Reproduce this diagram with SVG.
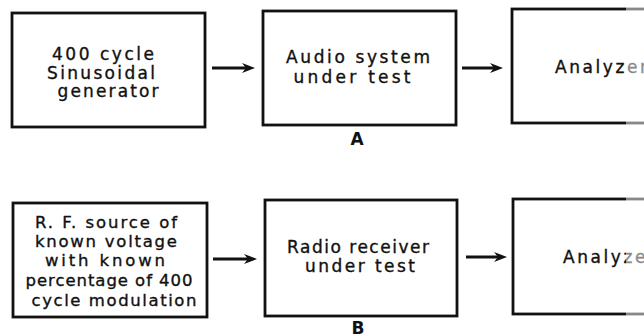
<svg xmlns="http://www.w3.org/2000/svg" width="644" height="336" viewBox="0 0 644 336">
<style>
.box{fill:#fff;stroke:#111;stroke-width:2.8}
.t{font-family:"DejaVu Sans",sans-serif;font-size:17px;fill:#111;stroke:#111;stroke-width:0.35;text-anchor:middle}
.ts{font-family:"DejaVu Sans",sans-serif;font-size:16.5px;fill:#111;stroke:#111;stroke-width:0.35;text-anchor:middle}
.lbl{font-family:"DejaVu Sans",sans-serif;font-size:17px;font-weight:bold;fill:#111;text-anchor:middle}
.c{stroke:#111;stroke-width:3.2;fill:none}
</style>
<defs>
<marker id="ah" markerUnits="userSpaceOnUse" markerWidth="14" markerHeight="12" refX="5" refY="5" orient="auto" viewBox="0 0 14 10">
<path d="M0,0 L13,5 L0,10 L4,5 Z" fill="#111"/>
</marker>
</defs>
<rect width="644" height="336" fill="#fff"/>

<g id="gen400">
<rect class="box" x="12" y="13" width="193" height="114"/>
<text class="t" x="103" y="60" textLength="102" lengthAdjust="spacing">400 cycle</text>
<text class="t" x="101" y="79" textLength="108" lengthAdjust="spacing">Sinusoidal</text>
<text class="t" x="108" y="97" textLength="101" lengthAdjust="spacing">generator</text>
</g>
<g id="audio">
<rect class="box" x="263" y="11" width="193" height="114"/>
<text class="t" x="358" y="63" textLength="144" lengthAdjust="spacing">Audio system</text>
<text class="t" x="352" y="83" textLength="117" lengthAdjust="spacing">under test</text>
</g>
<g id="analyzerA">
<rect class="box" x="512" y="9" width="200" height="114"/>
<text class="t" x="555" y="73" style="text-anchor:start" textLength="92" lengthAdjust="spacing">Analyzer</text>
</g>
<text class="lbl" x="357" y="145">A</text>

<g id="rfsource">
<rect class="box" x="13" y="203" width="194" height="114"/>
<text class="ts" x="106" y="228" textLength="142" lengthAdjust="spacing">R. F. source of</text>
<text class="ts" x="106" y="247" textLength="142" lengthAdjust="spacing">known voltage</text>
<text class="ts" x="105" y="266" textLength="120" lengthAdjust="spacing">with known</text>
<text class="ts" x="109" y="286" textLength="167" lengthAdjust="spacing">percentage of 400</text>
<text class="ts" x="114" y="306" textLength="165" lengthAdjust="spacing">cycle modulation</text>
</g>
<g id="radio">
<rect class="box" x="265" y="200" width="192" height="116"/>
<text class="t" x="358" y="253" textLength="142" lengthAdjust="spacing">Radio receiver</text>
<text class="t" x="360" y="272" textLength="110" lengthAdjust="spacing">under test</text>
</g>
<g id="analyzerB">
<rect class="box" x="513" y="199" width="200" height="115"/>
<text class="t" x="563" y="263" style="text-anchor:start" textLength="92" lengthAdjust="spacing">Analyzer</text>
</g>
<text class="lbl" x="358" y="334">B</text>

<g id="connectors">
<line class="c" x1="212" y1="68" x2="247" y2="68" marker-end="url(#ah)"/>
<line class="c" x1="462" y1="68" x2="495" y2="68" marker-end="url(#ah)"/>
<line class="c" x1="213" y1="259" x2="249" y2="259" marker-end="url(#ah)"/>
<line class="c" x1="466" y1="257" x2="499" y2="257" marker-end="url(#ah)"/>
</g>
<rect x="626" y="0" width="18" height="336" fill="#fff" opacity="0.5"/>
</svg>
